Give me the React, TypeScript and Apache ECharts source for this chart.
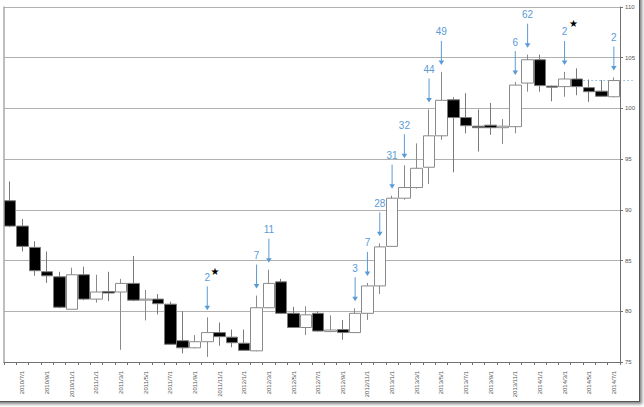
import React, { useEffect, useRef } from "react";
import * as echarts from "echarts";

const categories = [
  "2010/6/1", "2010/7/1", "2010/8/1", "2010/9/1", "2010/10/1", "2010/11/1", "2010/12/1",
  "2011/1/1", "2011/2/1", "2011/3/1", "2011/4/1", "2011/5/1", "2011/6/1", "2011/7/1",
  "2011/8/1", "2011/9/1", "2011/10/1", "2011/11/1", "2011/12/1",
  "2012/1/1", "2012/2/1", "2012/3/1", "2012/4/1", "2012/5/1", "2012/6/1", "2012/7/1",
  "2012/8/1", "2012/9/1", "2012/10/1", "2012/11/1", "2012/12/1",
  "2013/1/1", "2013/2/1", "2013/3/1", "2013/4/1", "2013/5/1", "2013/6/1", "2013/7/1",
  "2013/8/1", "2013/9/1", "2013/10/1", "2013/11/1", "2013/12/1",
  "2014/1/1", "2014/2/1", "2014/3/1", "2014/4/1", "2014/5/1", "2014/6/1", "2014/7/1",
];

const opens = [
  90.9, 88.4, 86.3, 83.9, 83.4, 80.2, 83.6, 81.2, 81.95, 81.9, 82.75, 81.1, 81.2, 80.7,
  77.1, 76.4, 77.0, 77.9, 77.45, 76.85, 76.1, 80.35, 82.9, 79.8, 78.4, 79.8, 78.0, 78.2,
  77.9, 79.8, 82.5, 86.4, 91.15, 92.2, 94.2, 97.3, 100.85, 99.1, 98.25, 98.35, 98.1,
  98.2, 102.5, 104.8, 102.2, 102.15, 102.9, 102.05, 101.7, 101.15,
];
const closes = [
  88.4, 86.4, 84.0, 83.5, 80.4, 83.6, 81.2, 81.9, 81.8, 82.75, 81.1, 81.2, 80.75, 76.75,
  76.4, 77.0, 77.9, 77.5, 76.9, 76.15, 80.35, 82.75, 79.8, 78.4, 79.65, 78.05, 78.15, 77.9,
  79.8, 82.5, 86.35, 91.15, 92.2, 94.1, 97.3, 100.8, 99.1, 98.3, 98.1, 98.1, 98.25,
  102.3, 104.8, 102.25, 102.1, 102.9, 102.15, 101.65, 101.2, 102.75,
];
const lows = [
  88.3, 85.9, 83.5, 82.8, 80.3, 80.2, 81.1, 80.85, 81.0, 76.2, 81.0, 79.1, 79.7, 76.7,
  75.85, 76.35, 75.5, 76.6, 76.45, 76.1, 76.05, 80.3, 79.75, 78.35, 77.65, 78.0, 77.95, 77.2,
  77.85, 79.15, 81.7, 86.35, 91.0, 92.1, 92.55, 96.9, 93.7, 97.55, 95.75, 97.4, 96.5,
  97.55, 101.65, 101.65, 100.7, 101.15, 101.3, 100.65, 101.15, 101.1,
];
const highs = [
  92.8, 89.1, 86.9, 85.9, 83.9, 84.3, 84.4, 83.6, 83.9, 83.2, 85.45, 82.1, 81.7, 80.95,
  80.0, 77.65, 79.4, 78.9, 78.2, 78.2, 81.55, 84.1, 83.2, 80.45, 80.5, 80.0, 79.6, 79.15,
  80.3, 82.8, 86.7, 91.4, 94.4, 96.55, 99.9, 103.6, 101.1, 101.5, 99.9, 100.55, 98.95,
  102.6, 105.3, 105.3, 102.25, 103.6, 103.95, 102.85, 102.8, 103.05,
];

const yTicks = [75, 80, 85, 90, 95, 100, 105, 110];

const annIndex = [16, 20, 21, 28, 29, 30, 31, 32, 34, 35, 41, 42, 45, 49];
const annLabels = ["2", "7", "11", "3", "7", "28", "31", "32", "44", "49", "6", "62", "2", "2"];

// star markers: [category index (fractional), price]
const stars = [
  [16.62, 83.97],
  [45.73, 108.4],
];

const lastCloseLine = 102.75;

const BLUE = "#5b9bd5";

export default function App() {
  const ref = useRef<HTMLDivElement>(null);

  useEffect(() => {
    if (!ref.current) return;
    const chart = echarts.init(ref.current, null, { renderer: "svg" });
    const data = categories.map((_, i) => [opens[i], closes[i], lows[i], highs[i]]);
    const yMin = yTicks[0];
    const yMax = yTicks[yTicks.length - 1];
    const step = yTicks[1] - yTicks[0];

    chart.setOption({
      animation: false,
      textStyle: { fontFamily: "Liberation Sans" },
      grid: { left: 4, right: 24, top: 7, bottom: 45 },
      xAxis: {
        type: "category",
        data: categories,
        boundaryGap: true,
        axisLine: { lineStyle: { color: "#707070", width: 1 } },
        axisTick: { show: true, interval: 0, length: 3, lineStyle: { color: "#707070" } },
        axisLabel: {
          rotate: 90,
          fontSize: 6,
          color: "#555",
          margin: 9,
          interval: (i: number) => i % 2 === 1,
        },
        splitLine: { show: false },
      },
      yAxis: [
        {
          type: "value",
          position: "right",
          min: yMin,
          max: yMax,
          interval: step,
          axisLine: { show: true, lineStyle: { color: "#707070" } },
          axisTick: { show: true, length: 3, lineStyle: { color: "#707070" } },
          axisLabel: { fontSize: 6, color: "#555", margin: 5 },
          splitLine: { show: true, lineStyle: { color: "#b0b0b0", width: 1 } },
        },
        {
          type: "value",
          position: "left",
          min: yMin,
          max: yMax,
          interval: step,
          axisLine: { show: true, lineStyle: { color: "#a8a8a8", width: 1.5 } },
          axisTick: { show: false },
          axisLabel: { show: false },
          splitLine: { show: false },
        },
      ],
      series: [
        {
          type: "candlestick",
          data,
          barWidth: 12,
          yAxisIndex: 0,
          itemStyle: {
            color: "#ffffff",
            color0: "#000000",
            borderColor: "#8a8a8a",
            borderColor0: "#7a7a7a",
            borderWidth: 1,
          },
        },
      ],
    });

    const px = (i: number, v: number) =>
      chart.convertToPixel({ xAxisIndex: 0, yAxisIndex: 0 }, [i, v]) as number[];
    const fx = (f: number, v: number) => {
      const i0 = Math.floor(f);
      const a = px(i0, v);
      const b = px(i0 + 1, v);
      return [a[0] + (b[0] - a[0]) * (f - i0), a[1]];
    };

    const graphics: any[] = [];
    annIndex.forEach((ci, k) => {
      const [x, yh] = px(ci, highs[ci]);
      const tip = yh - 7;
      const tail = tip - 24;
      graphics.push({
        type: "line",
        silent: true,
        shape: { x1: x, y1: tail, x2: x, y2: tip - 3 },
        style: { stroke: BLUE, lineWidth: 1 },
      });
      graphics.push({
        type: "polygon",
        silent: true,
        shape: { points: [[x - 2.8, tip - 4.5], [x + 2.8, tip - 4.5], [x, tip]] },
        style: { fill: BLUE },
      });
      graphics.push({
        type: "text",
        silent: true,
        x: x,
        y: tail - 9,
        style: {
          text: annLabels[k],
          fill: BLUE,
          fontSize: 10,
          fontFamily: "Liberation Sans",
          align: "center",
          verticalAlign: "middle",
        },
      });
    });
    stars.forEach(([f, v]) => {
      const [x, y] = fx(f, v);
      graphics.push({
        type: "text",
        silent: true,
        x,
        y,
        style: {
          text: "★",
          fill: "#000",
          fontSize: 10,
          fontFamily: "DejaVu Sans",
          align: "center",
          verticalAlign: "middle",
        },
      });
    });
    const n = categories.length;
    const [lx1, ly] = px(n - 3, lastCloseLine);
    const [lx2] = px(n - 1, lastCloseLine);
    graphics.push({
      type: "line",
      silent: true,
      shape: { x1: lx1 - 6, y1: ly, x2: lx2 + 19, y2: ly },
      style: { stroke: "#9dc3e6", lineWidth: 1, lineDash: [2, 2] },
    });

    chart.setOption({ graphic: graphics });

    return () => chart.dispose();
  }, []);

  return (
    <div
      style={{
        position: "absolute",
        left: 0,
        top: 0,
        width: 644,
        height: 407,
        overflow: "hidden",
        background: "#fff",
      }}
    >
      <div
        style={{
          position: "absolute",
          left: -5,
          top: -5,
          width: 645,
          height: 407,
          boxSizing: "border-box",
          border: "1px solid #555",
          boxShadow: "2px 2px 3px rgba(0,0,0,0.5)",
          background: "#fff",
        }}
      />
      <div ref={ref} style={{ position: "absolute", left: 0, top: 0, width: 644, height: 407 }} />
    </div>
  );
}
